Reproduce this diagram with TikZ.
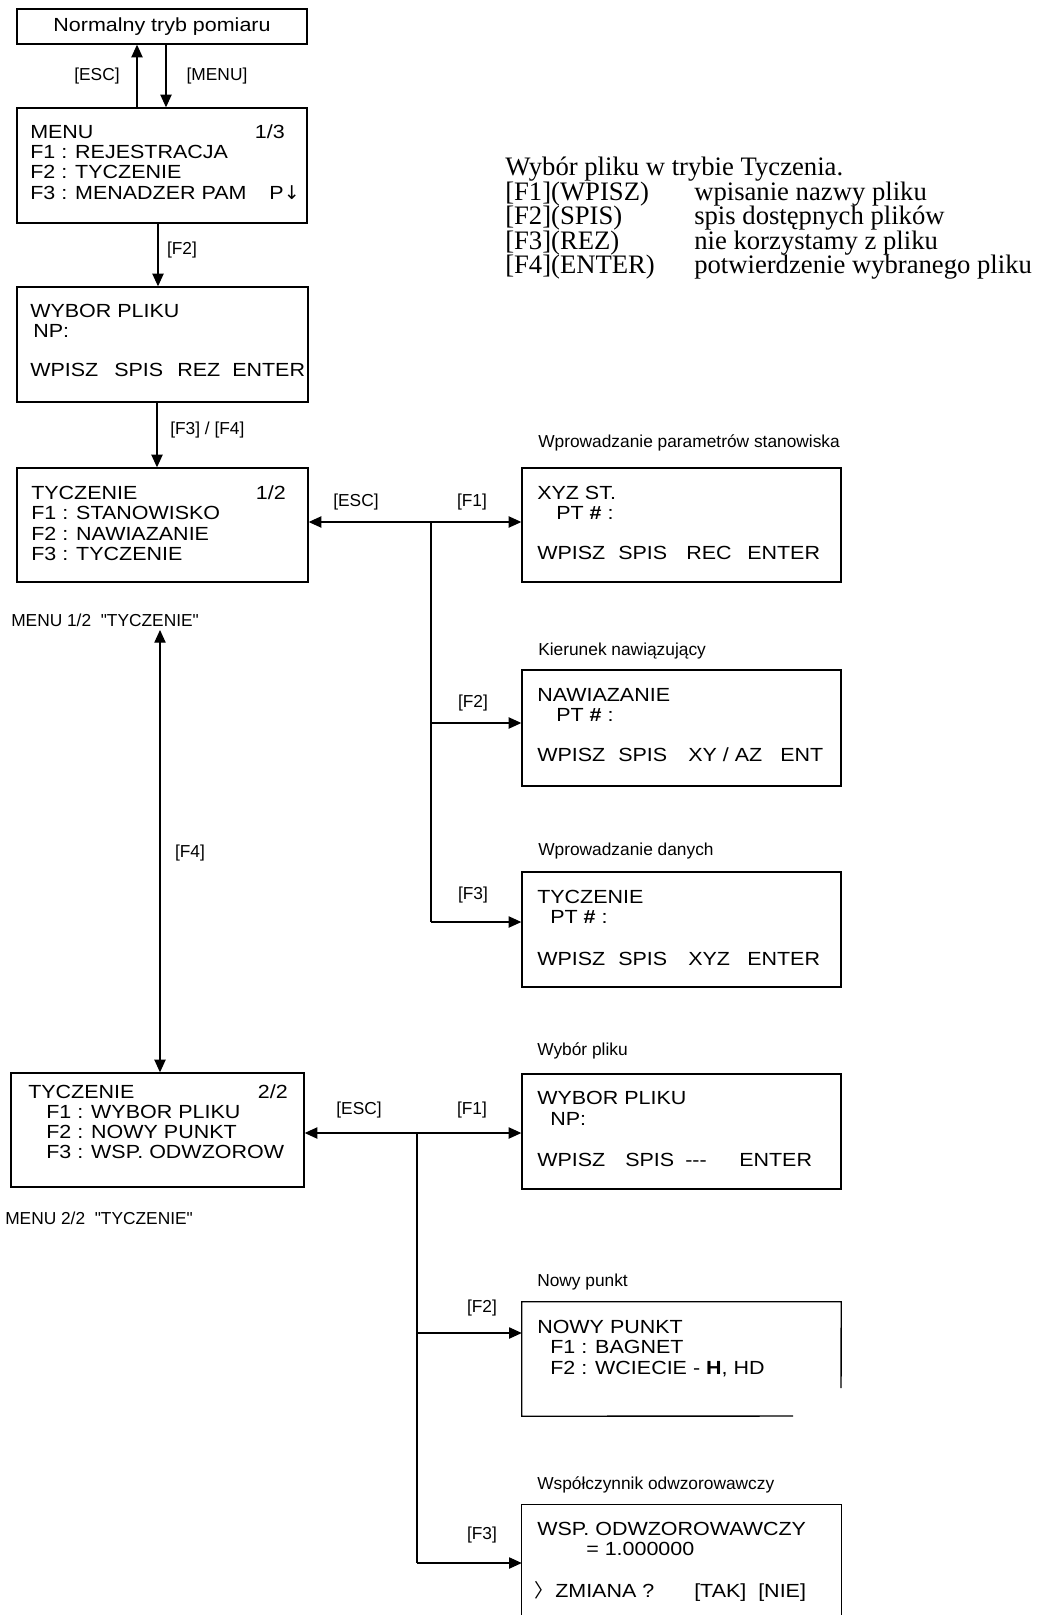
\documentclass[tikz,border=0pt]{standalone}
\usepackage{fontspec}
\setmainfont{Liberation Sans}
\newfontfamily\boxfamily[FakeStretch=1.13]{Liberation Sans}
\newfontfamily\labfamily{Liberation Sans}
\newfontfamily\serfamily{Liberation Serif}
\newfontfamily\djvfamily{DejaVu Sans}
\newfontfamily\cjkfamily{Noto Sans CJK SC}
\usetikzlibrary{arrows.meta,fit}
\newcommand\boxfnt{\boxfamily\fontsize{14.25pt}{16pt}\selectfont}
\newcommand\labfnt{\labfamily\fontsize{13pt}{15pt}\selectfont}
\newcommand\serfnt{\serfamily\fontsize{20pt}{24pt}\selectfont}
\tikzset{
  box/.style={draw, line width=1.05pt, inner sep=0pt},
  boxln/.style={line width=1.05pt},
  bt/.style={anchor=base west, inner sep=0pt, font=\boxfnt},
  btr/.style={anchor=base east, inner sep=0pt, font=\boxfnt},
  lab/.style={inner sep=0pt, font=\labfnt},
  labw/.style={anchor=west, inner sep=0pt, font=\labfnt},
  ser/.style={anchor=base west, inner sep=0pt, font=\serfnt},
  ln/.style={line width=0.8pt},
  arr/.style={line width=0.8pt, -{Triangle[length=9.5pt,width=8.5pt]}},
  arrb/.style={line width=0.8pt, {Triangle[length=9.5pt,width=8.5pt]}-{Triangle[length=9.5pt,width=8.5pt]}},
}
\begin{document}
\begin{tikzpicture}[x=0.75pt,y=-0.75pt]
\useasboundingbox (0,0) rectangle (1037,1615);

% ---------- boxes ----------
\node[box, fit={(17,9) (307,44)}] (B0) {};
\node[box, fit={(17,108) (307,223)}] (B1) {};
\node[box, fit={(17,287) (308,402)}] (B2) {};
\node[box, fit={(17,468) (308,582)}] (B3) {};
\node[box, fit={(11,1073) (304,1187)}] (B4) {};
\node[box, fit={(522,468) (841,582)}] (R1) {};
\node[box, fit={(522,670) (841,786)}] (R2) {};
\node[box, fit={(522,872) (841,987)}] (R3) {};
\node[box, fit={(522,1074) (841,1189)}] (R4) {};
\node[inner sep=0pt, fit={(522,1302) (841,1416)}] (R5) {};
\draw[boxln] (841,1388) -- (R5.north east) -- (R5.north west) -- (R5.south west) -- (793,1416);
\node[inner sep=0pt, fit={(522,1505) (841,1635)}] (R6) {};
\draw[boxln] (R6.south west) -- (R6.north west) -- (R6.north east) -- (R6.south east);

% ---------- box texts ----------
\node[anchor=base, inner sep=0pt, font=\boxfnt] (t0) at (162,32) {Normalny tryb pomiaru};

\node[bt] (t1a) at (30,139) {MENU};
\node[btr] (t1b) at (285,139) {1/3};
\node[bt] (t1c) at (30,159) {F1 : REJESTRACJA};
\node[bt] (t1d) at (30,179) {F2 : TYCZENIE};
\node[bt] (t1e) at (30,200) {F3 : MENADZER PAM};
\node[btr] (t1f) at (300,200) {P{\djvfamily ↓}};

\node[bt] (t2a) at (30,318) {WYBOR PLIKU};
\node[bt] (t2b) at (33,338) {NP:};
\node[bt] (t2c) at (30,377) {WPISZ};
\node[bt] (t2d) at (114,377) {SPIS};
\node[bt] (t2e) at (177,377) {REZ};
\node[bt] (t2f) at (232,377) {ENTER};

\node[bt] (t3a) at (31,499) {TYCZENIE};
\node[btr] (t3b) at (286,499) {1/2};
\node[bt] (t3c) at (31,519) {F1 : STANOWISKO};
\node[bt] (t3d) at (31,540) {F2 : NAWIAZANIE};
\node[bt] (t3e) at (31,560) {F3 : TYCZENIE};

\node[bt] (t4a) at (28,1098) {TYCZENIE};
\node[btr] (t4b) at (288,1098) {2/2};
\node[bt] (t4c) at (46,1118) {F1 : WYBOR PLIKU};
\node[bt] (t4d) at (46,1138) {F2 : NOWY PUNKT};
\node[bt] (t4e) at (46,1158) {F3 : WSP. ODWZOROW};

\node[bt] (r1a) at (537,499) {XYZ ST.};
\node[bt] (r1b) at (556,519) {PT {\bfseries\#} :};
\node[bt] (r1c) at (537,559) {WPISZ};
\node[bt] (r1d) at (618,559) {SPIS};
\node[bt] (r1e) at (686,559) {REC};
\node[bt] (r1f) at (747,559) {ENTER};

\node[bt] (r2a) at (537,701) {NAWIAZANIE};
\node[bt] (r2b) at (556,721) {PT {\bfseries\#} :};
\node[bt] (r2c) at (537,761) {WPISZ};
\node[bt] (r2d) at (618,761) {SPIS};
\node[bt] (r2e) at (688,761) {XY / AZ};
\node[bt] (r2f) at (780,761) {ENT};

\node[bt] (r3a) at (537,903) {TYCZENIE};
\node[bt] (r3b) at (550,923) {PT {\bfseries\#} :};
\node[bt] (r3c) at (537,965) {WPISZ};
\node[bt] (r3d) at (618,965) {SPIS};
\node[bt] (r3e) at (688,965) {XYZ};
\node[bt] (r3f) at (747,965) {ENTER};

\node[bt] (r4a) at (537,1104) {WYBOR PLIKU};
\node[bt] (r4b) at (550,1125) {NP:};
\node[bt] (r4c) at (537,1166) {WPISZ};
\node[bt] (r4d) at (625,1166) {SPIS};
\node[bt] (r4e) at (685,1166) {---};
\node[bt] (r4f) at (739,1166) {ENTER};

\node[bt] (r5a) at (537,1333) {NOWY PUNKT};
\node[bt] (r5b) at (550,1353) {F1 : BAGNET};
\node[bt] (r5c) at (550,1374) {F2 : WCIECIE - {\bfseries H}, HD};

\node[bt] (r6a) at (537,1535) {WSP. ODWZOROWAWCZY};
\node[bt] (r6b) at (586,1555) {= 1.000000};
\node[bt] (r6c) at (534,1597) {{\cjkfamily 〉}};
\node[bt] (r6d) at (555,1597) {ZMIANA ?};
\node[bt] (r6e) at (694,1597) {[TAK]};
\node[bt] (r6f) at (758,1597) {[NIE]};

% ---------- labels ----------
\node[lab] (l1) at (97,76) {[ESC]};
\node[lab] (l2) at (217,76) {[MENU]};
\node[lab] (l3) at (182,250) {[F2]};
\node[labw] (l4) at (170,430) {[F3] / [F4]};
\node[lab] (l5) at (356,502) {[ESC]};
\node[lab] (l6) at (472,502) {[F1]};
\node[labw] (l7) at (11,620) {MENU 1/2\ \ "TYCZENIE"};
\node[lab] (l8) at (190,853) {[F4]};
\node[lab] (l9) at (473,703) {[F2]};
\node[lab] (l10) at (473,895) {[F3]};
\node[labw] (l11) at (538,443) {Wprowadzanie parametrów stanowiska};
\node[labw] (l12) at (538,651) {Kierunek nawiązujący};
\node[labw] (l13) at (538,851) {Wprowadzanie danych};
\node[lab] (l14) at (359,1110) {[ESC]};
\node[lab] (l15) at (472,1110) {[F1]};
\node[labw] (l16) at (5,1218) {MENU 2/2\ \ "TYCZENIE"};
\node[labw] (l17) at (537,1051) {Wybór pliku};
\node[labw] (l18) at (537,1282) {Nowy punkt};
\node[labw] (l19) at (537,1485) {Współczynnik odwzorowawczy};
\node[lab] (l20) at (482,1308) {[F2]};
\node[lab] (l21) at (482,1535) {[F3]};

% ---------- serif legend ----------
\node[ser] (s0) at (505,176) {Wybór pliku w trybie Tyczenia.};
\node[ser] (s1) at (505,200.5) {[F1](WPISZ)};
\node[ser] (s1b) at (694,200.5) {wpisanie nazwy pliku};
\node[ser] (s2) at (505,225) {[F2](SPIS)};
\node[ser] (s2b) at (694,225) {spis dostępnych plików};
\node[ser] (s3) at (505,249.5) {[F3](REZ)};
\node[ser] (s3b) at (694,249.5) {nie korzystamy z pliku};
\node[ser] (s4) at (505,274) {[F4](ENTER)};
\node[ser] (s4b) at (694,274) {potwierdzenie wybranego pliku};

% ---------- connectors ----------
\coordinate (cEsc) at (137,0);
\coordinate (cMenu) at (166,0);
\coordinate (cF2) at (158,0);
\coordinate (cF34) at (157,0);
\coordinate (f4top) at (160,630);
\draw[arr] (B1.north -| cEsc) -- (B0.south -| cEsc);
\draw[arr] (B0.south -| cMenu) -- (B1.north -| cMenu);
\draw[arr] (B1.south -| cF2) -- (B2.north -| cF2);
\draw[arr] (B2.south -| cF34) -- (B3.north -| cF34);
\draw[arrb] (f4top) -- (B4.north -| f4top);

\coordinate (j1) at (431,522);
\coordinate (j2) at (431,723);
\coordinate (j3) at (431,922);
\draw[arrb] (B3.east |- j1) -- (R1.west |- j1);
\draw[ln] (j1) -- (j3);
\draw[arr] (j2) -- (R2.west |- j2);
\draw[arr] (j3) -- (R3.west |- j3);

\coordinate (k1) at (417,1133);
\coordinate (k2) at (417,1333);
\coordinate (k3) at (417,1563);
\draw[arrb] (B4.east |- k1) -- (R4.west |- k1);
\draw[ln] (k1) -- (k3);
\draw[arr] (k2) -- (R5.west |- k2);
\draw[arr] (k3) -- (R6.west |- k3);
\end{tikzpicture}
\end{document}
